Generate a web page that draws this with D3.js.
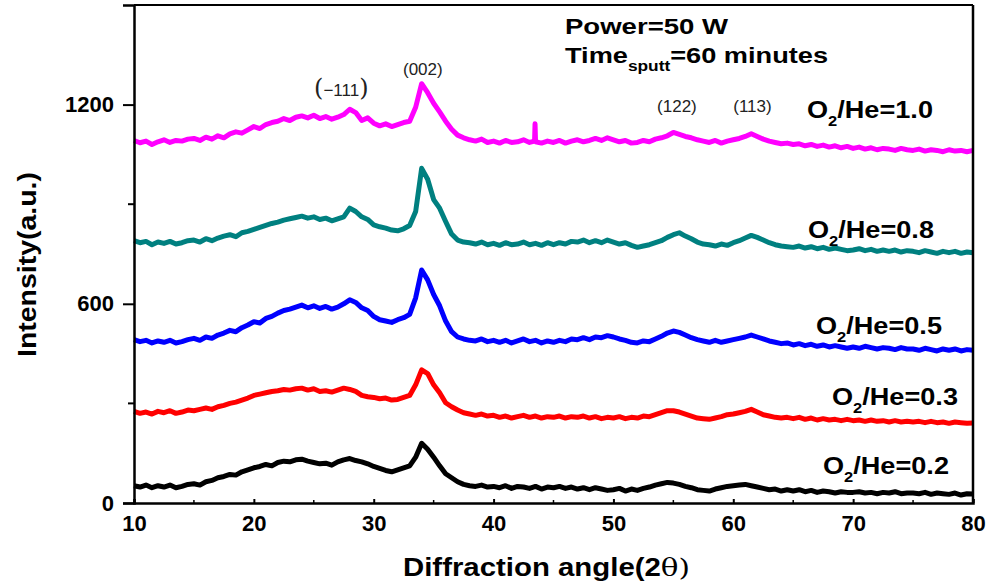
<!DOCTYPE html>
<html>
<head>
<meta charset="utf-8">
<script src="https://cdn.jsdelivr.net/npm/d3@7"></script>
<style>
  body { margin: 0; background: #fff; }
  text { font-family: "Liberation Sans", Arial, sans-serif; }
</style>
</head>
<body>
<script>
// 2theta grid, 0.5 degree steps from 10 to 80
const angles = d3.range(0, 141).map(i => 10 + i * 0.5);

// intensities, one array per O2/He ratio
const i10 = [
  1092,1085,1090,1080,1088,1094,1086,1092,1090,1096,
  1098,1092,1102,1096,1106,1100,1112,1118,1114,1124,
  1134,1128,1140,1146,1150,1158,1152,1162,1166,1160,
  1168,1158,1164,1156,1162,1170,1186,1176,1152,1160,
  1144,1136,1142,1134,1140,1146,1150,1192,1263,1236,
  1204,1178,1150,1126,1108,1100,1094,1090,1096,1086,
  1090,1084,1092,1086,1088,1094,1086,1090,1084,1090,
  1086,1092,1084,1090,1094,1088,1092,1098,1092,1100,
  1094,1088,1092,1084,1086,1092,1088,1096,1100,1106,
  1116,1110,1104,1100,1094,1090,1086,1092,1084,1090,
  1094,1098,1104,1112,1104,1096,1090,1086,1082,1084,
  1080,1082,1076,1080,1074,1078,1072,1076,1070,1074,
  1068,1072,1066,1070,1064,1068,1066,1062,1068,1064,
  1062,1066,1060,1064,1062,1058,1064,1060,1062,1058,
  1062
];
// narrow spike on the 1.0 pattern
const i10Spike = [[43.42, 1090], [43.46, 1142], [43.5, 1088]];

const i08 = [
  790,784,788,778,786,782,788,780,784,790,
  792,786,796,790,798,804,808,802,814,818,
  824,830,836,842,846,852,856,860,864,858,
  862,854,858,850,856,862,888,878,862,854,
  838,832,828,822,820,826,836,878,1008,975,
  914,888,848,810,792,786,784,780,786,778,
  782,776,784,778,780,786,778,782,776,784,
  778,784,780,788,786,792,784,790,784,792,
  786,780,784,776,770,774,778,784,790,800,
  808,814,804,796,786,780,778,774,780,776,
  784,790,798,806,800,792,784,778,774,772,
  770,774,768,772,766,770,764,768,764,760,
  762,766,760,764,758,762,758,762,756,760,
  758,754,760,756,752,758,754,758,752,756,
  754
];

const i05 = [
  492,486,490,482,488,484,490,482,486,492,
  496,490,500,496,506,512,520,516,528,536,
  546,542,556,562,572,580,584,590,596,588,
  594,586,592,584,590,600,612,604,588,580,
  562,552,548,544,552,558,568,618,702,672,
  628,594,548,516,500,494,490,488,494,486,
  490,484,490,482,488,494,486,490,482,488,
  484,490,486,494,492,498,492,500,498,504,
  500,494,490,484,482,488,486,494,502,512,
  518,514,506,498,492,488,484,490,484,488,
  492,496,500,506,500,494,488,484,480,482,
  476,480,474,478,472,476,470,474,470,466,
  470,466,472,468,464,468,466,462,468,464,
  464,460,466,462,458,464,460,464,458,462,
  460
];

const i03 = [
  276,270,274,268,276,272,278,270,274,280,
  278,282,286,282,290,294,300,304,310,316,
  324,328,332,336,338,342,340,344,346,340,
  344,336,338,334,340,346,342,336,324,320,
  318,314,316,310,312,318,324,356,401,390,
  356,332,302,290,280,272,268,264,268,262,
  264,258,262,256,260,264,258,262,256,260,
  258,262,256,260,258,262,256,260,254,258,
  256,260,254,258,256,262,260,266,272,278,
  278,274,268,262,256,254,252,256,260,266,
  268,272,276,282,274,266,262,258,256,258,
  254,258,252,256,250,254,250,252,248,252,
  248,250,246,250,246,248,244,248,244,246,
  244,246,242,246,242,244,240,244,242,240,
  241
];

const i02 = [
  52,48,54,46,52,48,54,46,50,56,
  58,54,64,68,76,80,86,84,94,100,
  106,110,116,112,122,126,124,130,132,126,
  122,118,120,114,124,130,134,128,124,118,
  110,104,98,94,100,106,112,138,180,162,
  138,112,88,76,64,56,52,50,54,48,
  50,46,52,44,50,48,44,50,42,48,
  46,50,44,48,42,46,40,46,42,38,
  40,44,36,42,38,44,48,54,58,62,
  60,56,50,46,40,38,36,42,46,50,
  52,54,56,52,48,44,40,42,36,40,
  36,40,34,38,32,36,34,30,34,32,
  32,34,30,32,28,32,30,34,28,30,
  30,28,32,26,30,28,26,30,24,28,
  27
];

const ratios = ['1.0', '0.8', '0.5', '0.3', '0.2'];
const colors = ['#ff00ff', '#008080', '#0000ff', '#ff0000', '#000000'];

const xTicks = [10, 20, 30, 40, 50, 60, 70, 80];
const yTicks = [0, 600, 1200];
const yMinor = [300, 900];

const peaks = [
  { label: '(002)', x: 34.1 },
  { label: '(122)', x: 55.3 },
  { label: '(113)', x: 61.6 }
];

const W = 989, H = 586;
const margin = { top: 5, right: 16, bottom: 83, left: 134 };

const svg = d3.select('body').append('svg')
  .attr('width', W)
  .attr('height', H);

const x = d3.scaleLinear().domain([10, 80]).range([margin.left, W - margin.right]);
const y = d3.scaleLinear().domain([0, 1500]).range([H - margin.bottom, margin.top]);

// curves
const line = d3.line()
  .x(d => x(d[0]))
  .y(d => y(d[1]));

function pairs(vals) {
  return angles.map((a, i) => [a, vals[i]]);
}

let pink = pairs(i10).concat(i10Spike).sort((a, b) => a[0] - b[0]);
const series = [pink, pairs(i08), pairs(i05), pairs(i03), pairs(i02)];

svg.append('g').selectAll('path')
  .data(series)
  .enter()
  .append('path')
  .attr('d', line)
  .attr('fill', 'none')
  .attr('stroke', (d, i) => colors[i])
  .attr('stroke-width', 5)
  .attr('stroke-linejoin', 'round');

// axes
const yAxis = svg.append('g')
  .attr('transform', `translate(${margin.left},0)`)
  .call(d3.axisLeft(y).tickValues(yTicks).tickFormat(d3.format('d')).tickSize(11).tickPadding(9));
yAxis.append('g').selectAll('line')
  .data(yMinor)
  .enter()
  .append('line')
  .attr('x1', -6).attr('x2', 0)
  .attr('y1', d => y(d)).attr('y2', d => y(d))
  .attr('stroke', '#000').attr('stroke-width', 2);

const xAxis = svg.append('g')
  .attr('transform', `translate(0,${H - margin.bottom})`)
  .call(d3.axisBottom(x).tickValues(xTicks).tickSize(-4).tickPadding(12));
xAxis.append('g').selectAll('line')
  .data(xTicks.slice(0, -1).map(v => v + 5))
  .enter()
  .append('line')
  .attr('x1', d => x(d)).attr('x2', d => x(d))
  .attr('y1', 0).attr('y2', -3)
  .attr('stroke', '#000').attr('stroke-width', 1.5);

[yAxis, xAxis].forEach(g => {
  g.select('.domain').attr('stroke-width', 2.5);
  g.selectAll('.tick line').attr('stroke-width', 2);
  g.selectAll('.tick text')
    .attr('font-family', '"Liberation Sans", Arial, sans-serif')
    .attr('font-size', 22)
    .attr('font-weight', 'bold')
    .attr('fill', '#000');
});
xAxis.selectAll('.tick text').attr('dy', '0.71em');

// frame top and right
svg.append('line')
  .attr('x1', margin.left).attr('x2', W - margin.right)
  .attr('y1', margin.top).attr('y2', margin.top)
  .attr('stroke', '#000').attr('stroke-width', 2);
svg.append('line')
  .attr('x1', W - margin.right).attr('x2', W - margin.right)
  .attr('y1', margin.top).attr('y2', H - margin.bottom)
  .attr('stroke', '#000').attr('stroke-width', 2.5);

// axis titles
const xt = svg.append('text')
  .attr('x', 403).attr('y', 576)
  .attr('font-size', 25).attr('font-weight', 'bold')
  .attr('textLength', 287).attr('lengthAdjust', 'spacingAndGlyphs');
xt.append('tspan').text('Diffraction angle(2');
xt.append('tspan').attr('font-family', '"DejaVu Serif", serif').attr('font-weight', 'normal').text('θ)');

svg.append('text')
  .attr('transform', 'translate(36,357) rotate(-90)')
  .attr('font-size', 25).attr('font-weight', 'bold')
  .attr('textLength', 185).attr('lengthAdjust', 'spacingAndGlyphs')
  .text('Intensity(a.u.)');

// run conditions
svg.append('text')
  .attr('x', 565).attr('y', 34)
  .attr('font-size', 22).attr('font-weight', 'bold')
  .attr('textLength', 163).attr('lengthAdjust', 'spacingAndGlyphs')
  .text('Power=50 W');
const tt = svg.append('text')
  .attr('x', 565).attr('y', 63)
  .attr('font-size', 22).attr('font-weight', 'bold')
  .attr('textLength', 263).attr('lengthAdjust', 'spacingAndGlyphs');
tt.append('tspan').text('Time');
tt.append('tspan').attr('font-size', 14).attr('dy', 8).text('sputt');
tt.append('tspan').attr('dy', -8).text('=60 minutes');

// peak labels
const pl = svg.append('text')
  .attr('x', 314).attr('y', 96)
  .attr('font-size', 17).attr('fill', '#222');
pl.append('tspan').attr('font-family', '"DejaVu Serif", serif').attr('font-size', 24).text('(');
pl.append('tspan').text('−111');
pl.append('tspan').attr('font-family', '"DejaVu Serif", serif').attr('font-size', 24).text(')');

svg.append('g').selectAll('text')
  .data(peaks)
  .enter()
  .append('text')
  .attr('x', d => x(d.x))
  .attr('y', (d, i) => i === 0 ? 75 : 112)
  .attr('text-anchor', 'middle')
  .attr('font-size', 17)
  .attr('fill', '#222')
  .text(d => d.label);

// ratio labels
const labelPos = [[807, 118], [808, 238], [816, 334], [832, 405], [823, 474]];
const rl = svg.append('g').selectAll('text')
  .data(ratios)
  .enter()
  .append('text')
  .attr('x', (d, i) => labelPos[i][0])
  .attr('y', (d, i) => labelPos[i][1])
  .attr('font-size', 23)
  .attr('font-weight', 'bold')
  .attr('textLength', 126)
  .attr('lengthAdjust', 'spacingAndGlyphs');
rl.append('tspan').text('O');
rl.append('tspan').attr('font-size', 14).attr('dy', 8).text('2');
rl.append('tspan').attr('dy', -8).text(d => '/He=' + d);
</script>
</body>
</html>
